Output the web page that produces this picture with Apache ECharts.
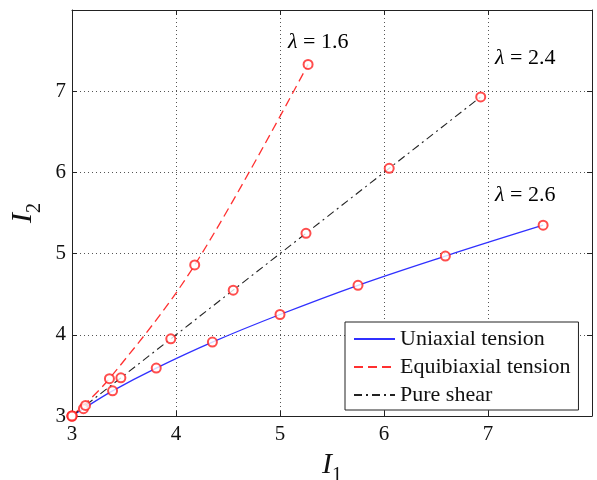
<!DOCTYPE html>
<html>
<head>
<meta charset="utf-8">
<script src="https://cdn.jsdelivr.net/npm/echarts@6/dist/echarts.min.js"></script>
<style>
  html, body { margin: 0; padding: 0; background: #fff; }
  #chart { width: 597px; height: 480px; }
</style>
</head>
<body>
<div id="chart"></div>
<script>
// values
const uniI1 = [3, 3.11, 3.39, 3.81, 4.35, 5.0, 5.75, 6.59, 7.53]
const uniI2 = [3, 3.09, 3.31, 3.59, 3.91, 4.25, 4.61, 4.97, 5.35]
const equiI1 = [3, 3.36, 4.18, 5.27]
const equiI2 = [3, 3.46, 4.86, 7.33]
const shearI1 = [3, 3.13, 3.47, 3.95, 4.55, 5.25, 6.05, 6.93]
const shearI2 = [3, 3.13, 3.47, 3.95, 4.55, 5.25, 6.05, 6.93]
const seriesNames = ['Uniaxial tension', 'Equibiaxial tension', 'Pure shear']
const lambdaLabels = ['1.6', '2.4', '2.6']

const pairs = (xs, ys) => xs.map((x, i) => [x, ys[i]])
const FONT = 'Liberation Serif'

const chart = echarts.init(document.getElementById('chart'))

const tickAxis = {
  min: 3,
  max: 8,
  interval: 1,
  axisLine: { show: true, onZero: false, lineStyle: { color: '#222', width: 1 } },
  axisTick: { show: true, inside: true, length: 5, lineStyle: { color: '#222' } }
}

const nameRich = {
  i: { fontFamily: FONT, fontStyle: 'italic', fontSize: 30, color: '#111' },
  s: { fontFamily: FONT, fontSize: 20, color: '#111', padding: [22, 0, 0, 0] }
}

const mainX = Object.assign({}, tickAxis, {
  type: 'value',
  position: 'bottom',
  name: '{i|I}{s|1}',
  nameLocation: 'middle',
  nameGap: 27,
  nameTextStyle: { rich: nameRich },
  axisLabel: { show: true, showMaxLabel: false, margin: 8, fontFamily: FONT, fontSize: 21, color: '#111' },
  splitLine: { show: true, lineStyle: { color: '#555', type: [1, 3], width: 1 } }
})

const mainY = Object.assign({}, tickAxis, {
  type: 'value',
  position: 'left',
  name: '{i|I}{s|2}',
  nameLocation: 'middle',
  nameGap: 26,
  nameTextStyle: { rich: nameRich },
  axisLabel: { show: true, showMaxLabel: false, margin: 6, fontFamily: FONT, fontSize: 21, color: '#111' },
  splitLine: { show: true, lineStyle: { color: '#555', type: [1, 3], width: 1 } }
})

const topX = Object.assign({}, tickAxis, {
  type: 'value', position: 'top', axisLabel: { show: false }, splitLine: { show: false }
})
const rightY = Object.assign({}, tickAxis, {
  type: 'value', position: 'right', axisLabel: { show: false }, splitLine: { show: false }
})

const markerSeries = (name, data) => ({
  name: name,
  type: 'scatter',
  data: data,
  symbol: 'emptyCircle',
  symbolSize: 9,
  clip: false,
  z: 5,
  itemStyle: { color: '#ff2020', borderColor: '#ff2020', borderWidth: 1 }
})

const lambdaRich = {
  l: { fontFamily: FONT, fontStyle: 'italic', fontSize: 22, color: '#111' },
  n: { fontFamily: FONT, fontSize: 22, color: '#111' }
}
const lambdaText = (v, left, top) => ({
  type: 'text',
  left: left,
  top: top,
  style: { text: '{l|λ}{n| = ' + v + '}', rich: lambdaRich }
})

chart.setOption({
  animation: false,
  backgroundColor: '#fff',
  grid: { left: 72, right: 5, top: 10, bottom: 64, show: false, outerBoundsMode: 'none' },
  xAxis: [mainX, topX],
  yAxis: [mainY, rightY],
  legend: {
    data: seriesNames,
    orient: 'vertical',
    left: 345,
    top: 322,
    padding: [6, 8, 4, 8],
    itemWidth: 41,
    itemHeight: 14,
    itemGap: 6,
    backgroundColor: '#fff',
    borderColor: '#222',
    borderWidth: 1,
    borderRadius: 0,
    // hide the circle ECharts puts in the middle of a line legend icon
    itemStyle: { opacity: 0 },
    textStyle: { fontFamily: FONT, fontSize: 22, color: '#111' }
  },
  series: [
    {
      name: seriesNames[0],
      type: 'line',
      data: pairs(uniI1, uniI2),
      smooth: 0.4,
      symbol: 'none',
      clip: false,
      lineStyle: { color: '#3030ff', width: 1.3, type: 'solid' },
      itemStyle: { color: '#3030ff' }
    },
    {
      name: seriesNames[1],
      type: 'line',
      data: pairs(equiI1, equiI2),
      smooth: 0.35,
      symbol: 'none',
      clip: false,
      lineStyle: { color: '#ff3030', width: 1.3, type: [9, 5] },
      itemStyle: { color: '#ff3030' }
    },
    {
      name: seriesNames[2],
      type: 'line',
      data: pairs(shearI1, shearI2),
      symbol: 'none',
      clip: false,
      lineStyle: { color: '#222', width: 1.1, type: [8, 4, 2, 4] },
      itemStyle: { color: '#222' }
    },
    markerSeries('uni-markers', pairs(uniI1, uniI2)),
    markerSeries('equi-markers', pairs(equiI1, equiI2)),
    markerSeries('shear-markers', pairs(shearI1, shearI2))
  ],
  graphic: [
    lambdaText(lambdaLabels[0], 288, 31),
    lambdaText(lambdaLabels[1], 495, 47),
    lambdaText(lambdaLabels[2], 495, 184)
  ]
})
</script>
</body>
</html>
